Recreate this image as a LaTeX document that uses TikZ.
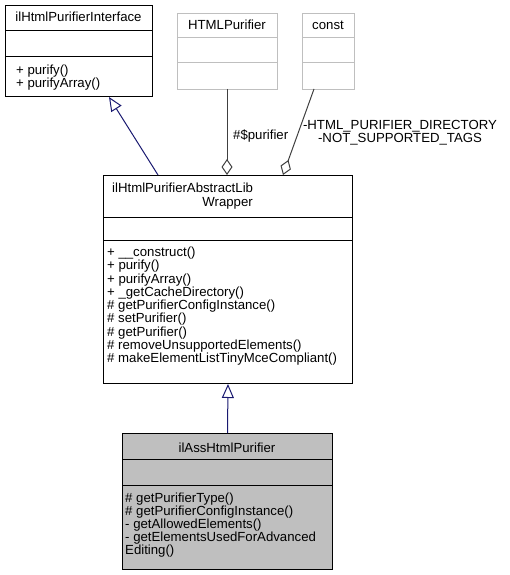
\documentclass[tikz,border=0pt]{standalone}
\usepackage{fontspec}
\setmainfont{Liberation Sans}
\usetikzlibrary{arrows.meta}
\definecolor{navyline}{HTML}{191970}
\definecolor{edgegray}{HTML}{404040}
\definecolor{boxgray}{HTML}{BFBFBF}
\tikzset{
  classbox/.style={draw=black, line width=1pt, rectangle, inner sep=0pt, anchor=north west},
  extbox/.style={draw=boxgray, line width=1pt, rectangle, inner sep=0pt, anchor=north west},
  txt/.style={inner sep=0pt, font=\fontsize{13.2}{13.3}\selectfont},
  mem/.style={txt, anchor=base west},
  ttl/.style={txt, anchor=base},
  inherit/.style={draw=navyline, line width=1pt, -{Triangle[open, length=14pt, width=12pt]}},
  aggr/.style={draw=edgegray, line width=1pt, -{Diamond[open, length=16pt, width=11pt]}},
}
\begin{document}
\begin{tikzpicture}[x=1pt, y=-1pt]
\useasboundingbox (0,0) rectangle (509,575);

% ilHtmlPurifierInterface
\node[classbox, minimum width=147pt, minimum height=91pt] (iface) at (5,5) {};
\draw[line width=1pt] (5,31) -- (152,31);
\draw[line width=1pt] (5,57) -- (152,57);
\node[ttl] (ifacet) at (78.5,22) {ilHtmlPurifierInterface};
\node[mem] (ifacem1) at (16,75) {+ purify()};
\node[mem] (ifacem2) at (16,88) {+ purifyArray()};

% HTMLPurifier
\node[extbox, minimum width=100pt, minimum height=76pt] (hp) at (177,13) {};
\draw[boxgray, line width=1pt] (177,38) -- (277,38);
\draw[boxgray, line width=1pt] (177,63) -- (277,63);
\node[ttl] (hpt) at (227,30) {HTMLPurifier};

% const
\node[extbox, minimum width=52pt, minimum height=76pt] (cst) at (302,13) {};
\draw[boxgray, line width=1pt] (302,38) -- (354,38);
\draw[boxgray, line width=1pt] (302,63) -- (354,63);
\node[ttl] (cstt) at (328,30) {const};

% ilHtmlPurifierAbstractLibWrapper
\node[classbox, minimum width=249pt, minimum height=208pt] (wrap) at (103,175) {};
\draw[line width=1pt] (103,217) -- (352,217);
\draw[line width=1pt] (103,240) -- (352,240);
\node[txt, anchor=base west] (wrapt1) at (112,192) {ilHtmlPurifierAbstractLib};
\node[txt, anchor=base east] (wrapt2) at (253,206) {Wrapper};
\foreach \t [count=\i from 0] in {%
  {+ \_\_construct()},
  {+ purify()},
  {+ purifyArray()},
  {+ \_getCacheDirectory()},
  {\# getPurifierConfigInstance()},
  {\# setPurifier()},
  {\# getPurifier()},
  {\# removeUnsupportedElements()},
  {\# makeElementListTinyMceCompliant()}}
  \node[mem] (wrapm\i) at (107,256.5+13.25*\i) {\t};

% ilAssHtmlPurifier
\node[classbox, fill=boxgray, minimum width=210pt, minimum height=136pt] (ass) at (122,433) {};
\draw[line width=1pt] (122,459) -- (332,459);
\draw[line width=1pt] (122,485) -- (332,485);
\node[ttl] (asst) at (227,452.5) {ilAssHtmlPurifier};
\foreach \t [count=\i from 0] in {%
  {\# getPurifierType()},
  {\# getPurifierConfigInstance()},
  {- getAllowedElements()},
  {- getElementsUsedForAdvanced},
  {Editing()}}
  \node[mem] (assm\i) at (125,502.5+13*\i) {\t};

% connectors
\coordinate (ifacetip) at (109,97);
\coordinate (wrapin) at (158,175);
\draw[inherit] (wrapin) -- (ifacetip);
\draw[inherit] (ass.north) -- (wrap.south);

\coordinate (hpout) at (227,89);
\coordinate (hpin) at (227,175);
\draw[aggr] (hpout) -- (hpin);
\node[txt, anchor=base west] (hplab) at (233,139.5) {\#\$purifier};

\coordinate (cstout) at (314,89);
\coordinate (cstin) at (283,175);
\draw[aggr] (cstout) -- (cstin);
\node[txt, align=center, anchor=north] (cstlab) at (400,120) {-HTML\_PURIFIER\_DIRECTORY\\-NOT\_SUPPORTED\_TAGS};
\end{tikzpicture}
\end{document}
